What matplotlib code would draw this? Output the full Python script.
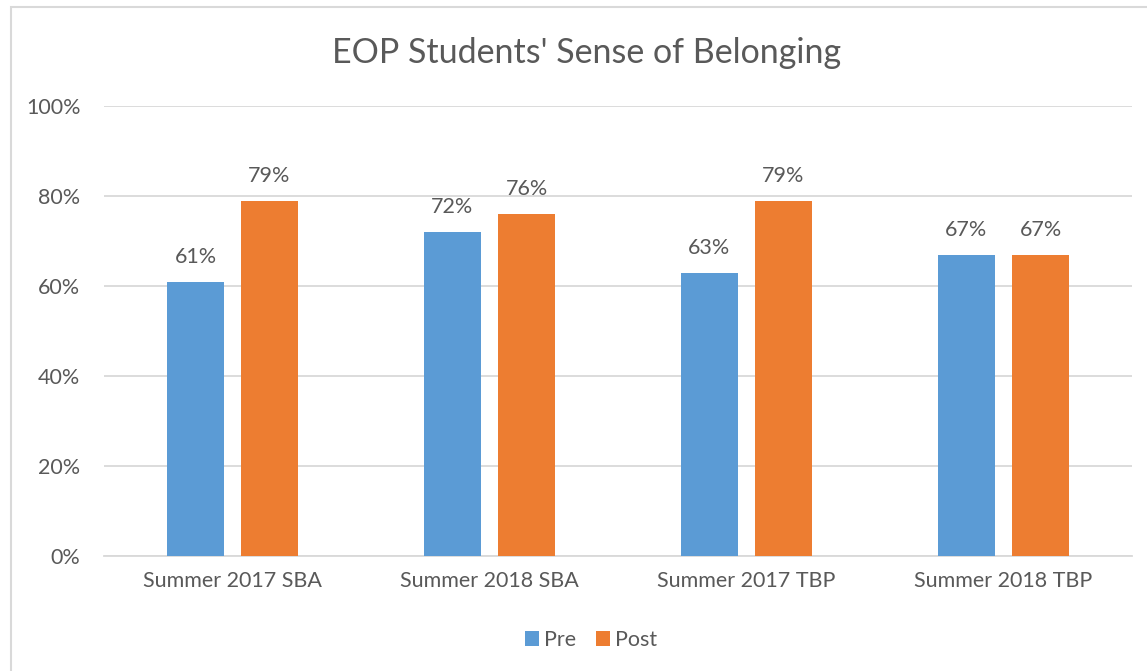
import numpy as np
import matplotlib.pyplot as plt
from matplotlib.patches import Rectangle
from matplotlib.ticker import PercentFormatter

categories = ['Summer 2017 SBA', 'Summer 2018 SBA', 'Summer 2017 TBP', 'Summer 2018 TBP']
pre = [0.61, 0.72, 0.63, 0.67]
post = [0.79, 0.76, 0.79, 0.67]
yticks = [0, 0.2, 0.4, 0.6, 0.8, 1.0]

plt.rcParams['font.family'] = ['Lato', 'DejaVu Sans']
text_color = '#595959'
grid_color = '#D9D9D9'
blue = '#5B9BD5'
orange = '#ED7D31'

fig = plt.figure(figsize=(11.47, 6.71), dpi=100)
ax = fig.add_axes([104 / 1147, 115 / 671, 1028 / 1147, 450 / 671])

# chart frame, cut off at right and bottom like the screenshot
fig.patches.append(Rectangle((11 / 1147, -0.1), 1.2, (671 - 7) / 671 + 0.1,
                             transform=fig.transFigure, fill=False,
                             edgecolor=grid_color, linewidth=1.5))

x = np.arange(len(categories))
w = 0.225
off = 0.144
b1 = ax.bar(x - off, pre, w, color=blue, label='Pre', zorder=3)
b2 = ax.bar(x + off, post, w, color=orange, label='Post', zorder=3)

for bars, vals in [(b1, pre), (b2, post)]:
    for rect, v in zip(bars, vals):
        ax.annotate(f'{v:.0%}', (rect.get_x() + rect.get_width() / 2, v),
                    xytext=(0, 10.5), textcoords='offset points',
                    ha='center', va='bottom', fontsize=15.5, color=text_color)

ax.set_xlim(-0.5, len(categories) - 0.5)
ax.set_ylim(0, 1.0)
ax.set_yticks(yticks)
ax.yaxis.set_major_formatter(PercentFormatter(1.0, decimals=0))
ax.set_xticks(x)
ax.set_xticklabels(categories)
ax.tick_params(axis='both', length=0, labelsize=15.5, labelcolor=text_color)
ax.tick_params(axis='y', pad=17)
ax.tick_params(axis='x', pad=11)
ax.grid(axis='y', color=grid_color, linewidth=1.3, zorder=0)
for s in ['top', 'right', 'left']:
    ax.spines[s].set_visible(False)
ax.spines['bottom'].set_color(grid_color)
ax.spines['bottom'].set_linewidth(1.3)

fig.text(587 / 1147, 1 - 53 / 671, "EOP Students' Sense of Belonging",
         ha='center', va='center', fontsize=24.5, color=text_color)

fig.legend(handles=[b1, b2], labels=['Pre', 'Post'], loc='center',
           bbox_to_anchor=(591 / 1147, 1 - 640 / 671), ncol=2, frameon=False,
           fontsize=15.5, labelcolor=text_color, handlelength=0.65, handleheight=0.7,
           handletextpad=0.25, columnspacing=0.9)

plt.savefig('out.png', dpi=100)
